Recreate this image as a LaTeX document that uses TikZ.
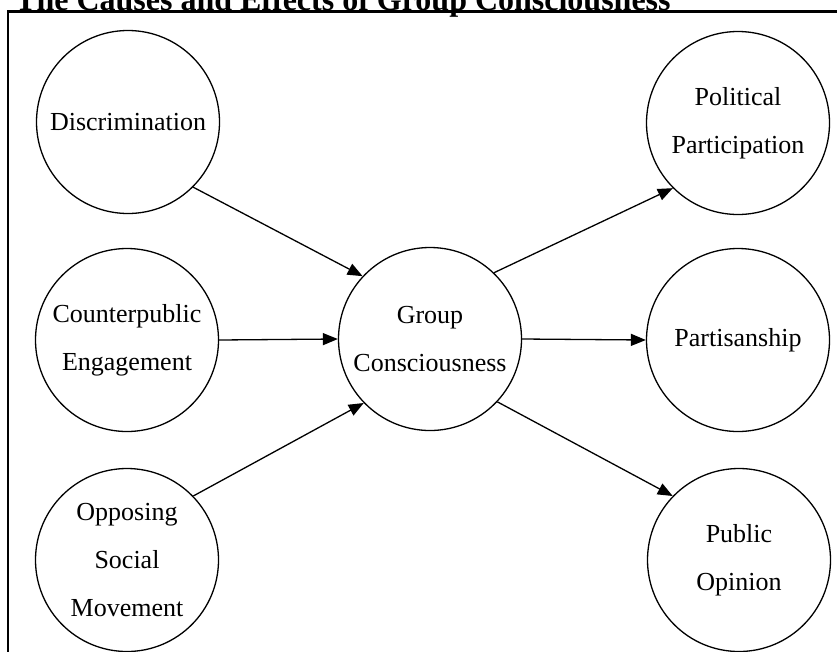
\documentclass[tikz,border=0pt]{standalone}
\usepackage{fontspec}
\setmainfont{Liberation Serif}
\usepackage{tikz}
\usetikzlibrary{arrows.meta}

\begin{document}
\begin{tikzpicture}[x=1pt, y=-1pt,
  bubble/.style = {shape=circle, draw, line width=1.3pt,
    minimum size=183pt, inner sep=0pt,
    align=center, font=\fontsize{26}{48}\selectfont},
  link/.style = {line width=1.3pt, -{Triangle[length=15pt,width=12pt]}}]
  \useasboundingbox (0,0) rectangle (837,651);
  \clip (0,0) rectangle (837,651);
  % title and frame
  \node[anchor=base west, inner sep=0pt, font=\fontsize{32}{36}\selectfont\bfseries]
    (title) at (15,10) {The Causes and Effects of Group Consciousness};
  \draw[line width=2.5pt] (8,660) -- (8,11.5) -- (845,11.5);
  % causes
  \node[bubble] (disc) at (128,122) {Discrimination};
  \node[bubble] (cpe) at (127,340) {Counterpublic\\Engagement};
  \node[bubble] (osm) at (127,560) {Opposing\\Social\\Movement};
  % centre
  \node[bubble] (gc) at (430,339) {Group\\Consciousness};
  % effects
  \node[bubble] (pp) at (738,123) {Political\\Participation};
  \node[bubble] (part) at (738,340) {Partisanship};
  \node[bubble] (po) at (739,560) {Public\\Opinion};
  % arrows
  \draw[link] (disc.-45) -- (gc.137);
  \draw[link] (cpe.east) -- (gc.west);
  \draw[link] (osm.44) -- (gc.224);
  \draw[link] (gc.46) -- (pp.225);
  \draw[link] (gc.east) -- (part.west);
  \draw[link] (gc.-43) -- (po.136);
\end{tikzpicture}
\end{document}
